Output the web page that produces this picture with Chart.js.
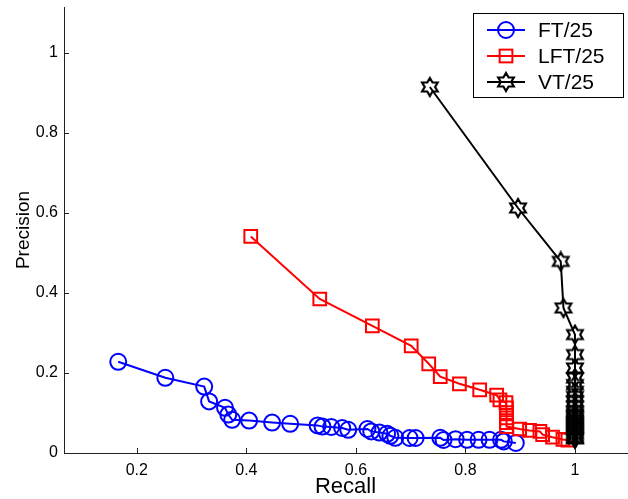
<!DOCTYPE html>
<html lang="en">
<head>
  <meta charset="UTF-8" />
  <script src="https://cdn.jsdelivr.net/npm/chart.js"></script>
  <title>Precision / Recall</title>
  <style>
    body { margin: 0; background: #fff; }
  </style>
</head>
<body>
  <canvas id="grafico" width="628" height="499"></canvas>
  <script>
    // valores
    const ftRecall = [0.166, 0.252, 0.323, 0.332, 0.361, 0.367, 0.374, 0.405, 0.447, 0.480,
      0.530, 0.539, 0.555, 0.575, 0.586, 0.621, 0.628, 0.643, 0.657, 0.663, 0.672,
      0.698, 0.709, 0.754, 0.760, 0.782, 0.803, 0.824, 0.844, 0.865, 0.870, 0.892];
    const ftPrecision = [0.228, 0.188, 0.166, 0.129, 0.113, 0.096, 0.083, 0.081, 0.076, 0.073,
      0.069, 0.066, 0.065, 0.0625, 0.058, 0.060, 0.054, 0.051, 0.048, 0.043, 0.038,
      0.0375, 0.0375, 0.038, 0.0325, 0.0345, 0.033, 0.033, 0.033, 0.033, 0.029, 0.025];

    const lftRecall = [0.408, 0.534, 0.630, 0.701, 0.733, 0.754, 0.789, 0.826, 0.857, 0.863,
      0.874, 0.875, 0.875, 0.875, 0.875, 0.875, 0.899, 0.917, 0.936, 0.941, 0.959, 0.978, 0.987];
    const lftPrecision = [0.5415, 0.385, 0.318, 0.268, 0.223, 0.191, 0.173, 0.158, 0.1445, 0.133,
      0.126, 0.113, 0.101, 0.088, 0.076, 0.066, 0.060, 0.0565, 0.054, 0.046, 0.0395, 0.034, 0.032];

    const vtRecall = [0.735, 0.896, 0.974, 0.979, 1, 1, 1, 1, 1, 1, 1, 1, 1, 1, 1,
      1, 1, 1, 1, 1, 1, 1, 1, 1, 1, 1, 1, 1];
    const vtPrecision = [0.915, 0.6125, 0.479, 0.3625, 0.296, 0.246, 0.2125, 0.1875, 0.171, 0.154,
      0.1415, 0.129, 0.1165, 0.104, 0.098, 0.093, 0.088, 0.083, 0.078, 0.073, 0.068,
      0.0625, 0.057, 0.0515, 0.047, 0.0415, 0.038, 0.035];

    const xTicks = [0.2, 0.4, 0.6, 0.8, 1];
    const yTicks = [0, 0.2, 0.4, 0.6, 0.8, 1];
    const etiquetas = ['FT/25', 'LFT/25', 'VT/25'];

    const fuente = 'Liberation Sans, Arial, Helvetica, sans-serif';
    const colorEje = '#222';

    // estrella de seis puntas (hexagrama) sin relleno
    function crearEstrella(r) {
      const c = document.createElement('canvas');
      const s = Math.ceil(2 * r + 4);
      c.width = s; c.height = s;
      const g = c.getContext('2d');
      g.strokeStyle = '#000';
      g.lineWidth = 2.2;
      g.lineJoin = 'miter';
      g.beginPath();
      for (let k = 0; k < 12; k++) {
        const ang = -Math.PI / 2 + k * Math.PI / 6;
        const rad = k % 2 === 0 ? r : r / Math.sqrt(3);
        const px = s / 2 + rad * Math.cos(ang);
        const py = s / 2 + rad * Math.sin(ang);
        if (k === 0) g.moveTo(px, py); else g.lineTo(px, py);
      }
      g.closePath();
      g.stroke();
      return c;
    }
    const estrella = crearEstrella(9);

    const puntos = (xs, ys) => xs.map((x, i) => ({ x: x, y: ys[i] }));

    // marcas de los ejes hacia adentro
    const marcasPlugin = {
      id: 'marcas',
      afterDraw(chart) {
        const ctx = chart.ctx;
        const sx = chart.scales.x, sy = chart.scales.y;
        const area = chart.chartArea;
        ctx.save();
        ctx.strokeStyle = colorEje;
        ctx.lineWidth = 1;
        ctx.beginPath();
        xTicks.forEach(v => {
          const px = Math.round(sx.getPixelForValue(v)) + 0.5;
          ctx.moveTo(px, area.bottom);
          ctx.lineTo(px, area.bottom - 5);
        });
        yTicks.forEach(v => {
          const py = Math.round(sy.getPixelForValue(v)) + 0.5;
          ctx.moveTo(area.left, py);
          ctx.lineTo(area.left + 5, py);
        });
        ctx.stroke();
        ctx.restore();
      }
    };

    // leyenda con caja, linea y marcador
    const leyendaPlugin = {
      id: 'leyenda',
      afterDraw(chart) {
        const ctx = chart.ctx;
        const x0 = 473.5, y0 = 13.5, w = 150, h = 84;
        ctx.save();
        ctx.fillStyle = '#fff';
        ctx.fillRect(x0, y0, w, h);
        ctx.strokeStyle = '#000';
        ctx.lineWidth = 1;
        ctx.strokeRect(x0, y0, w, h);
        chart.data.datasets.forEach((ds, i) => {
          const y = 30 + i * 26;
          ctx.strokeStyle = ds.borderColor;
          ctx.lineWidth = 2;
          ctx.beginPath();
          ctx.moveTo(487, y);
          ctx.lineTo(525, y);
          ctx.stroke();
          if (ds.pointStyle === 'circle') {
            ctx.beginPath();
            ctx.arc(506, y, ds.pointRadius, 0, Math.PI * 2);
            ctx.stroke();
          } else if (ds.pointStyle === 'rect') {
            const m = ds.pointRadius * Math.SQRT1_2;
            ctx.strokeRect(506 - m, y - m, 2 * m, 2 * m);
          } else {
            ctx.drawImage(ds.pointStyle, 506 - ds.pointStyle.width / 2, y - ds.pointStyle.height / 2);
          }
          ctx.fillStyle = '#000';
          ctx.font = '21px ' + fuente;
          ctx.textBaseline = 'middle';
          ctx.fillText(etiquetas[i], 538, y + 1);
        });
        ctx.restore();
      }
    };

    const ctx = document.getElementById('grafico').getContext('2d');
    new Chart(ctx, {
      type: 'scatter',
      data: {
        datasets: [
          {
            label: etiquetas[0],
            data: puntos(ftRecall, ftPrecision),
            showLine: true,
            borderColor: '#0000ff',
            borderWidth: 2,
            pointStyle: 'circle',
            pointRadius: 8,
            pointBorderWidth: 2,
            pointBackgroundColor: 'rgba(0,0,0,0)',
            order: 3
          },
          {
            label: etiquetas[1],
            data: puntos(lftRecall, lftPrecision),
            showLine: true,
            borderColor: '#ff0000',
            borderWidth: 2,
            pointStyle: 'rect',
            pointRadius: 9,
            pointBorderWidth: 2,
            pointBackgroundColor: 'rgba(0,0,0,0)',
            order: 2
          },
          {
            label: etiquetas[2],
            data: puntos(vtRecall, vtPrecision),
            showLine: true,
            borderColor: '#000000',
            borderWidth: 2,
            pointStyle: estrella,
            pointRadius: 9,
            order: 1
          }
        ]
      },
      options: {
        responsive: false,
        animation: false,
        devicePixelRatio: 1,
        layout: { autoPadding: false, padding: { top: 7, right: 1, left: 0, bottom: 0 } },
        plugins: {
          legend: { display: false },
          tooltip: { enabled: false }
        },
        scales: {
          x: {
            type: 'linear',
            min: 0.067,
            max: 1.095,
            afterBuildTicks: s => { s.ticks = xTicks.map(v => ({ value: v })); },
            afterFit: s => { s.height = 46; s.paddingLeft = 0; s.paddingRight = 0; },
            grid: { display: false, drawTicks: false },
            border: { display: true, color: colorEje, width: 1 },
            ticks: {
              color: '#000',
              padding: 8,
              maxRotation: 0,
              font: { family: fuente, size: 16 },
              callback: v => String(Math.round(v * 10) / 10)
            },
            title: {
              display: true,
              text: 'Recall',
              color: '#000',
              font: { family: fuente, size: 22 },
              padding: { top: 0, bottom: -1 }
            }
          },
          y: {
            type: 'linear',
            min: 0,
            max: 1.115,
            afterBuildTicks: s => { s.ticks = yTicks.map(v => ({ value: v })); },
            afterFit: s => { s.width = 64; s.paddingTop = 0; s.paddingBottom = 0; },
            grid: { display: false, drawTicks: false },
            border: { display: true, color: colorEje, width: 1 },
            ticks: {
              color: '#000',
              padding: 6,
              font: { family: fuente, size: 16 },
              callback: v => String(Math.round(v * 10) / 10)
            },
            title: {
              display: true,
              text: 'Precision',
              color: '#000',
              font: { family: fuente, size: 19 },
              padding: { top: 12, bottom: 0 }
            }
          }
        }
      },
      plugins: [marcasPlugin, leyendaPlugin]
    });
  </script>
</body>
</html>
